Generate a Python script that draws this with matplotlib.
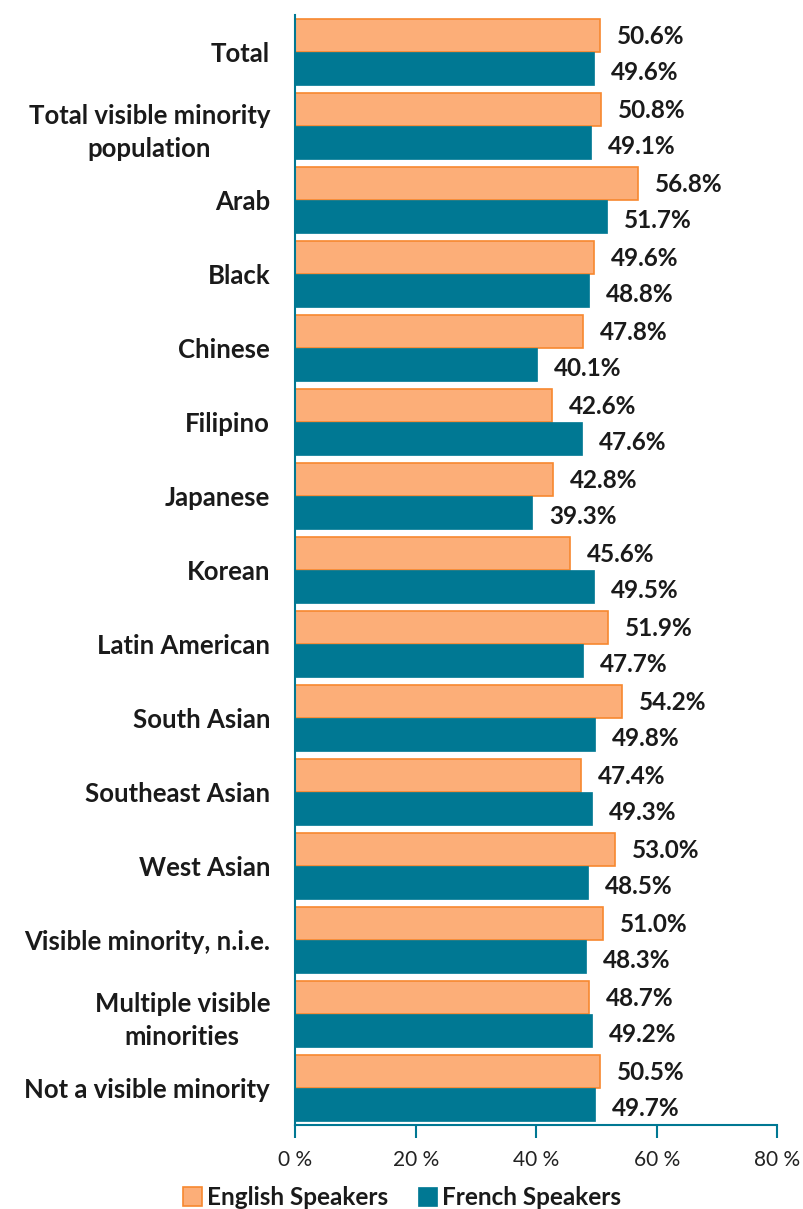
import matplotlib.pyplot as plt
import numpy as np

categories = ["Total", "Total visible minority\npopulation", "Arab", "Black",
              "Chinese", "Filipino", "Japanese", "Korean", "Latin American",
              "South Asian", "Southeast Asian", "West Asian",
              "Visible minority, n.i.e.", "Multiple visible\nminorities",
              "Not a visible minority"]
english = [50.6, 50.8, 56.8, 49.6, 47.8, 42.6, 42.8, 45.6, 51.9, 54.2, 47.4, 53.0, 51.0, 48.7, 50.5]
french = [49.6, 49.1, 51.7, 48.8, 40.1, 47.6, 39.3, 49.5, 47.7, 49.8, 49.3, 48.5, 48.3, 49.2, 49.7]
xticks = [0, 20, 40, 60, 80]

plt.rcParams['font.family'] = ['Lato', 'DejaVu Sans']

orange = "#fcae78"
orange_edge = "#f7882f"
teal = "#007893"

fig = plt.figure(figsize=(8.04, 12.09), dpi=100)
ax = fig.add_axes([0.367, 0.0695, 0.6, 0.918])

y = np.arange(len(categories))
h = 0.45
ax.barh(y - h / 2, english, height=h, color=orange, edgecolor=orange_edge,
        linewidth=1.2, label="English Speakers")
ax.barh(y + h / 2, french, height=h, color=teal, edgecolor=teal,
        linewidth=0.5, label="French Speakers")

for i in range(len(categories)):
    ax.text(english[i] + 2.8, y[i] - h / 2 + 0.02, f"{english[i]:.1f}%", va="center",
            ha="left", fontsize=17.5, fontweight="bold", color="#1a1a1a")
    ax.text(french[i] + 2.8, y[i] + h / 2 + 0.05, f"{french[i]:.1f}%", va="center",
            ha="left", fontsize=17.5, fontweight="bold", color="#1a1a1a")

ax.set_ylim(len(categories) - 0.5, -0.5)
ax.set_xlim(0, 80)
ax.set_xticks(xticks)
ax.set_xticklabels([f"{v} %" for v in xticks], fontsize=15, color="#222222")
ax.set_yticks(y)
ax.set_yticklabels(categories, fontsize=18.5, fontweight="bold", color="#1a1a1a")
for t in ax.get_yticklabels():
    t.set_multialignment("center")
    t.set_linespacing(1.45)

ax.tick_params(axis="y", length=0, pad=18)
ax.tick_params(axis="x", direction="out", length=9, width=1.5, color=teal, pad=9)
for s in ["top", "right"]:
    ax.spines[s].set_visible(False)
for s in ["left", "bottom"]:
    ax.spines[s].set_color(teal)
    ax.spines[s].set_linewidth(1.5)

leg = fig.legend(loc="center", bbox_to_anchor=(0.5, 0.0095), ncol=2,
                 frameon=False, prop={"size": 17.5, "weight": "bold"},
                 handlelength=0.8, handleheight=0.8, handletextpad=0.2,
                 columnspacing=1.2, borderpad=0)
for t in leg.get_texts():
    t.set_color("#1a1a1a")

fig.savefig("out.png", dpi=100)
